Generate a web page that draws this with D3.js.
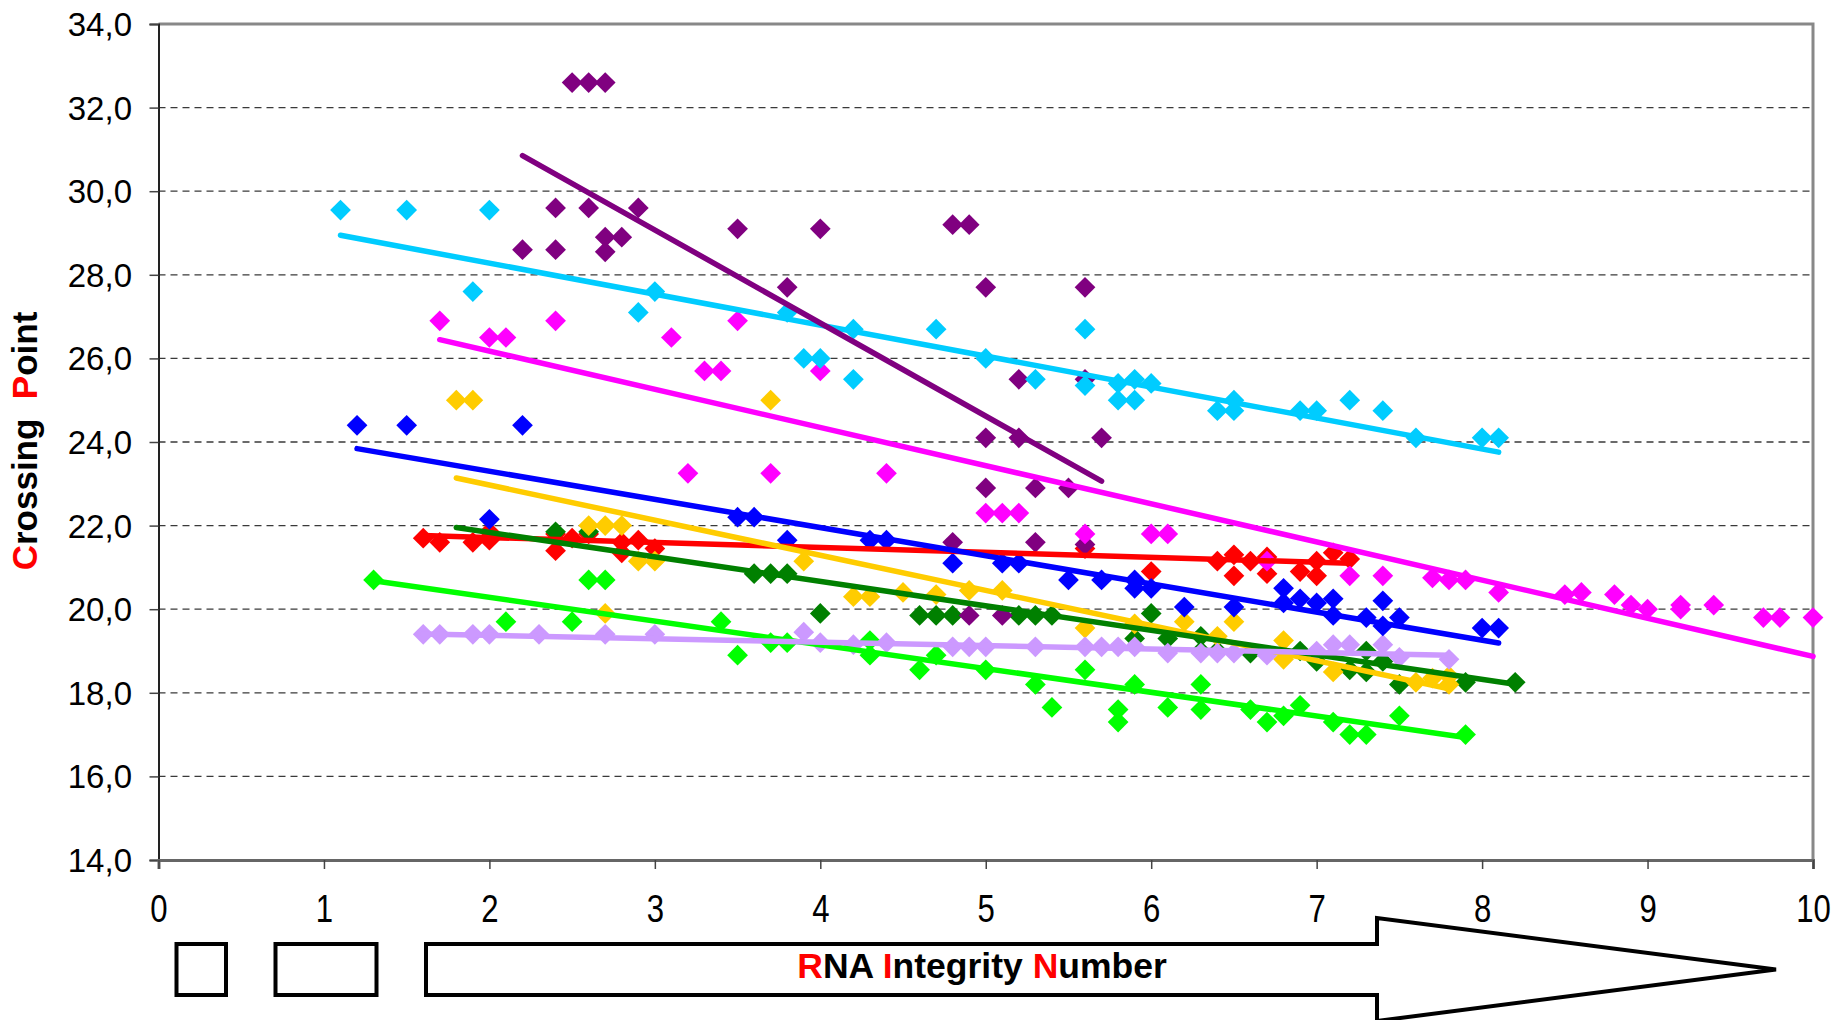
<!DOCTYPE html>
<html>
<head>
<meta charset="utf-8">
<script src="https://cdn.jsdelivr.net/npm/d3@7"></script>
<style>
  body { margin: 0; background: #fff; }
  svg { display: block; }
  text { font-family: "Liberation Sans", Arial, sans-serif; }
</style>
</head>
<body>
<svg id="chart" width="1846" height="1020"></svg>
<script>
// ---- Measured points: [RNA Integrity Number, Crossing Point] ----
const purplePoints = [[2.5,32.6],[2.6,32.6],[2.7,32.6],[2.2,28.6],[2.4,29.6],[2.4,28.6],[2.6,29.6],[2.7,28.55],[2.7,28.9],[2.8,28.9],[2.9,29.6],[3.5,29.1],[3.8,27.7],[4.0,29.1],[4.8,29.2],[4.9,29.2],[5.0,27.7],[5.6,27.7],[5.2,25.5],[5.6,25.5],[5.0,24.1],[5.2,24.1],[5.7,24.1],[5.0,22.9],[5.3,22.9],[5.5,22.9],[4.8,21.6],[5.3,21.6],[5.6,21.55],[4.9,19.85],[5.1,19.85]];
const cyanPoints = [[1.1,29.55],[1.5,29.55],[2.0,29.55],[1.9,27.6],[3.0,27.6],[2.9,27.1],[3.8,27.1],[3.9,26.0],[4.0,26.0],[4.2,25.5],[4.2,26.7],[4.7,26.7],[5.0,26.0],[5.3,25.5],[5.6,26.7],[5.6,25.35],[5.8,25.4],[5.9,25.5],[6.0,25.4],[5.8,25.0],[5.9,25.0],[6.4,24.75],[6.5,25.0],[6.5,24.75],[6.9,24.75],[7.0,24.75],[7.2,25.0],[7.4,24.75],[7.6,24.1],[8.0,24.1],[8.1,24.1]];
const magentaPoints = [[1.7,26.9],[2.0,26.5],[2.1,26.5],[2.4,26.9],[3.1,26.5],[3.2,23.25],[3.3,25.7],[3.4,25.7],[3.5,26.9],[3.7,23.25],[4.0,25.7],[4.4,23.25],[5.0,22.3],[5.1,22.3],[5.2,22.3],[5.6,21.8],[6.0,21.8],[6.1,21.8],[6.7,21.15],[7.2,20.8],[7.4,20.8],[7.7,20.75],[7.8,20.7],[7.9,20.7],[8.1,20.4],[8.5,20.35],[8.6,20.4],[8.8,20.35],[8.9,20.1],[9.0,20.0],[9.2,20.1],[9.2,20.0],[9.4,20.1],[9.7,19.8],[9.8,19.8],[10.0,19.8]];
const bluePoints = [[1.2,24.4],[1.5,24.4],[2.2,24.4],[2.0,22.15],[3.5,22.2],[3.6,22.2],[3.8,21.65],[4.3,21.65],[4.4,21.65],[4.8,21.1],[5.1,21.1],[5.2,21.1],[5.5,20.7],[5.7,20.7],[5.9,20.7],[5.9,20.5],[6.0,20.5],[6.2,20.05],[6.5,20.05],[6.8,20.5],[6.8,20.15],[6.9,20.25],[7.0,20.15],[7.1,20.25],[7.1,19.85],[7.3,19.8],[7.4,20.2],[7.4,19.6],[7.5,19.8],[8.0,19.55],[8.1,19.55]];
const goldPoints = [[1.8,25.0],[1.9,25.0],[3.7,25.0],[2.6,22.0],[2.7,22.0],[2.8,22.0],[2.9,21.15],[3.0,21.15],[2.7,19.9],[3.9,21.15],[4.2,20.3],[4.3,20.3],[4.5,20.4],[4.7,20.35],[4.9,20.45],[5.1,20.45],[5.6,19.55],[5.9,19.65],[6.2,19.7],[6.5,19.7],[6.4,19.35],[6.8,19.25],[6.8,18.8],[7.1,18.5],[7.6,18.25],[7.7,18.35],[7.8,18.2],[7.8,18.4]];
const redPoints = [[1.6,21.7],[1.7,21.6],[1.9,21.6],[2.0,21.65],[2.0,21.85],[2.4,21.8],[2.4,21.4],[2.5,21.7],[2.6,21.8],[2.8,21.6],[2.8,21.35],[2.9,21.65],[3.0,21.45],[5.6,21.45],[6.0,20.9],[6.4,21.15],[6.5,21.3],[6.6,21.15],[6.5,20.8],[6.7,20.85],[6.7,21.25],[6.9,20.9],[7.0,20.8],[7.0,21.15],[7.1,21.35],[7.2,21.2]];
const darkGreenPoints = [[2.4,21.85],[2.6,21.85],[3.6,20.85],[3.7,20.85],[3.8,20.85],[4.0,19.9],[4.6,19.85],[4.7,19.85],[4.8,19.85],[5.2,19.85],[5.3,19.85],[5.4,19.85],[5.9,19.3],[6.0,19.9],[6.1,19.3],[6.3,19.35],[6.3,19.0],[6.4,19.0],[6.6,18.95],[6.9,19.0],[7.0,18.75],[7.2,18.55],[7.3,18.5],[7.3,19.0],[7.4,18.75],[7.5,18.2],[7.9,18.25],[8.2,18.25]];
const greenPoints = [[1.3,20.7],[2.1,19.7],[2.5,19.7],[2.6,20.7],[2.7,20.7],[3.4,19.7],[3.5,18.9],[3.7,19.2],[3.8,19.2],[4.3,19.25],[4.3,18.9],[4.6,18.55],[4.7,18.9],[5.0,18.55],[5.3,18.2],[5.4,17.65],[5.6,18.55],[5.8,17.6],[5.8,17.3],[5.9,18.2],[6.1,17.65],[6.3,18.2],[6.3,17.6],[6.6,17.6],[6.7,17.3],[6.8,17.45],[6.9,17.7],[7.1,17.3],[7.2,17.0],[7.3,17.0],[7.5,17.45],[7.9,17.0]];
const lavenderPoints = [[1.6,19.4],[1.7,19.4],[1.9,19.4],[2.0,19.4],[2.3,19.4],[2.7,19.4],[3.0,19.4],[3.9,19.45],[4.0,19.2],[4.2,19.15],[4.4,19.2],[4.8,19.1],[4.9,19.1],[5.0,19.1],[5.3,19.1],[5.6,19.1],[5.7,19.1],[5.8,19.1],[5.9,19.1],[6.1,18.95],[6.3,18.95],[6.4,18.95],[6.5,18.95],[6.7,18.9],[7.0,19.0],[7.1,19.15],[7.2,19.15],[7.4,19.15],[7.5,18.85],[7.8,18.8]];

// ---- Series styling and linear trend lines (slope, intercept, x-range) ----
const seriesPoints   = [redPoints, greenPoints, darkGreenPoints, goldPoints, lavenderPoints, bluePoints, purplePoints, magentaPoints, cyanPoints];
const seriesColors   = ["#FF0000", "#00FF00", "#008000", "#FFCC00", "#CC99FF", "#0000FF", "#800080", "#FF00FF", "#00CCFF"];
const trendSlope     = [-0.118, -0.568, -0.586, -0.84, -0.082, -0.674, -2.226, -0.913, -0.741];
const trendIntercept = [21.95, 21.42, 23.01, 24.65, 19.54, 24.65, 35.75, 28.0, 29.76];
const trendFrom      = [1.6, 1.3, 1.8, 1.8, 1.6, 1.2, 2.2, 1.7, 1.1];
const trendTo        = [7.2, 7.9, 8.2, 7.8, 7.8, 8.1, 5.7, 10.0, 8.1];
// draw order of the trend lines (indices into the series arrays)
const trendOrder     = [0, 8, 7, 5, 3, 2, 1, 4, 6];

// ---- Axis ticks ----
const yTicks = [14, 16, 18, 20, 22, 24, 26, 28, 30, 32, 34];
const xTicks = [0, 1, 2, 3, 4, 5, 6, 7, 8, 9, 10];

const svg = d3.select("#chart");
const x = d3.scaleLinear().domain([0, 10]).range([158.5, 1813]);
const y = d3.scaleLinear().domain([14, 34]).range([860, 24]);
const fmt = d => d3.format(".1f")(d).replace(".", ",");

// dashed horizontal gridlines
svg.append("g").selectAll("line")
  .data(yTicks.filter(t => t > 14 && t < 34))
  .join("line")
  .attr("x1", x(0)).attr("x2", x(10))
  .attr("y1", d => y(d)).attr("y2", d => y(d))
  .attr("stroke", "#3a3a3a").attr("stroke-width", 1.3)
  .attr("stroke-dasharray", "7,5");

// plot frame (top/right in grey)
svg.append("path")
  .attr("d", `M${x(0)},${y(34)} H${x(10)} V${y(14)}`)
  .attr("fill", "none").attr("stroke", "#888").attr("stroke-width", 3);

// y axis
const yAxis = svg.append("g")
  .attr("transform", `translate(${x(0)},0)`)
  .call(d3.axisLeft(y).tickValues(yTicks).tickSize(9).tickFormat(fmt));
yAxis.select(".domain").attr("stroke", "#222").attr("stroke-width", 2);
yAxis.selectAll(".tick line").attr("stroke", "#444").attr("stroke-width", 1.5);
yAxis.selectAll(".tick text")
  .attr("x", -26.5).attr("dy", null)
  .attr("font-size", 33).attr("fill", "#000")
  .attr("dominant-baseline", "central")
  .attr("text-anchor", "end");

// x axis
const xAxis = svg.append("g")
  .attr("transform", `translate(0,${y(14)})`)
  .call(d3.axisBottom(x).tickValues(xTicks).tickSize(9).tickFormat(d3.format("d")));
xAxis.select(".domain").attr("stroke", "#666").attr("stroke-width", 3);
xAxis.selectAll(".tick line").attr("stroke", "#444").attr("stroke-width", 1.5);
xAxis.selectAll(".tick text")
  .attr("y", null).attr("dy", null)
  .attr("font-size", 38).attr("fill", "#000")
  .attr("dominant-baseline", "central")
  .attr("transform", "translate(0,49) scale(0.82,1)");

// markers (rotated squares)
const diamond = d3.symbol().type(d3.symbolSquare).size(215);
seriesPoints.forEach((pts, i) => {
  svg.append("g").selectAll("path")
    .data(pts)
    .join("path")
    .attr("d", diamond)
    .attr("fill", seriesColors[i])
    .attr("transform", d => `translate(${x(d[0])},${y(d[1])}) rotate(45)`);
});

// linear trend lines
trendOrder.forEach(i => {
  const f = v => trendIntercept[i] + trendSlope[i] * v;
  svg.append("line")
    .attr("x1", x(trendFrom[i])).attr("y1", y(f(trendFrom[i])))
    .attr("x2", x(trendTo[i])).attr("y2", y(f(trendTo[i])))
    .attr("stroke", seriesColors[i]).attr("stroke-width", 5.5)
    .attr("stroke-linecap", "round");
});

// y-axis title
const yTitle = svg.append("text")
  .attr("transform", "translate(23.5,441) rotate(-90)")
  .attr("text-anchor", "middle").attr("dominant-baseline", "central")
  .attr("font-size", 35).attr("font-weight", "bold")
  .attr("xml:space", "preserve");
yTitle.append("tspan").attr("fill", "#FF0000").text("C");
yTitle.append("tspan").attr("fill", "#000").text("rossing  ");
yTitle.append("tspan").attr("fill", "#FF0000").text("P");
yTitle.append("tspan").attr("fill", "#000").text("oint");

// outline boxes and arrow below the x axis
const deco = svg.append("g").attr("fill", "none").attr("stroke", "#000").attr("stroke-width", 4);
deco.append("rect").attr("x", 176.5).attr("y", 944).attr("width", 49.5).attr("height", 51);
deco.append("rect").attr("x", 275.5).attr("y", 944).attr("width", 101).attr("height", 51);
deco.append("path")
  .attr("d", "M426,944 H1377 V918 L1776,969.5 L1377,1021 V995 H426 Z")
  .attr("stroke-linejoin", "miter");

// x-axis title inside the arrow
const xTitle = svg.append("text")
  .attr("transform", "translate(982,966)")
  .attr("text-anchor", "middle").attr("dominant-baseline", "central")
  .attr("font-size", 35.5).attr("font-weight", "bold");
[["R", "#FF0000"], ["NA ", "#000"], ["I", "#FF0000"], ["ntegrity ", "#000"], ["N", "#FF0000"], ["umber", "#000"]]
  .forEach(([t, c]) => xTitle.append("tspan").attr("fill", c).text(t));
</script>
</body>
</html>
